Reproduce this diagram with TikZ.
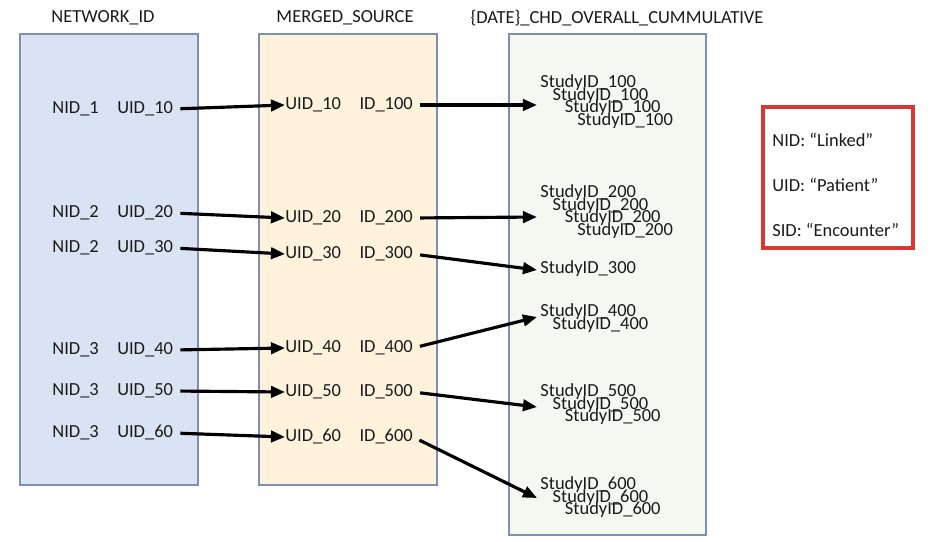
\documentclass[tikz,border=0pt]{standalone}
\usepackage{fontspec}
\setmainfont{Carlito}
\usetikzlibrary{arrows.meta}
\definecolor{netfill}{HTML}{DAE3F3}
\definecolor{srcfill}{HTML}{FFF2DD}
\definecolor{chdfill}{HTML}{F5F8F0}
\definecolor{boxline}{HTML}{7F8FB4}
\definecolor{legendred}{HTML}{D93636}
\definecolor{txt}{HTML}{1A1A1A}
\tikzset{
  table box/.style={
    draw=boxline, line width=0.6pt,
  },
  title/.style={
    inner sep=0pt, font=\fontsize{10.5}{12}\selectfont, text=txt,
  },
  row/.style={
    anchor=west, inner sep=0pt,
    font=\fontsize{10.5}{12}\selectfont, text=txt,
  },
  link/.style={
    line width=1.8pt,
    -{Triangle[length=8pt,width=6.5pt]},
  },
}
\begin{document}
\begin{tikzpicture}[x=0.02cm, y=-0.02cm]
\useasboundingbox (0,0) rectangle (945,541);
% tables
\draw[table box, fill=netfill] (20,34) rectangle (198,485);
\draw[table box, fill=srcfill] (259,34) rectangle (437,485);
\draw[table box, fill=chdfill] (509,34) rectangle (706,535);
\node[title] (t-net) at (103,18) {NETWORK\_ID};
\node[title] (t-src) at (345,18) {MERGED\_SOURCE};
\node[title] (t-chd) at (617,18) {\{DATE\}\_CHD\_OVERALL\_CUMMULATIVE};

% network ids
\foreach \i/\n/\y in {1/1/109, 2/2/213, 3/2/248, 4/3/350, 5/3/391, 6/3/433}
  \node[row] (n-\i) at (52,\y) {NID\_\n\quad UID\_\i0};
% merged source
\foreach \i/\y in {1/105, 2/218, 3/254, 4/348, 5/392, 6/437}
  \node[row] (m-\i) at (285,\y) {UID\_\i0\quad ID\_\i00};

% study ids, stacked copies
\foreach \i/\c/\y in {1/4/83, 2/4/193, 3/1/269, 4/2/312, 5/3/392, 6/3/485}
  \foreach \j in {1,...,\c}
    \node[row] (s-\i-\j) at (540+12.3*\j-12.3, \y+12.5*\j-12.5) {StudyID\_\i00};
\foreach \i/\y in {1/105, 2/217, 3/270, 4/317, 5/407, 6/498}
  \coordinate (tg-\i) at (537,\y);

% links
\foreach \i in {1,...,6} {
  \draw[link, shorten <=4pt] (n-\i.east) -- (m-\i.west);
  \draw[link, shorten <=4pt] (m-\i.east) -- (tg-\i);
}

% legend
\draw[legendred, line width=2pt] (763,107) rectangle (913,248);
\node[row] (l-nid) at (772,140) {NID: “Linked”};
\node[row] (l-uid) at (772,185) {UID: “Patient”};
\node[row] (l-sid) at (772,230) {SID: “Encounter”};
\end{tikzpicture}
\end{document}
